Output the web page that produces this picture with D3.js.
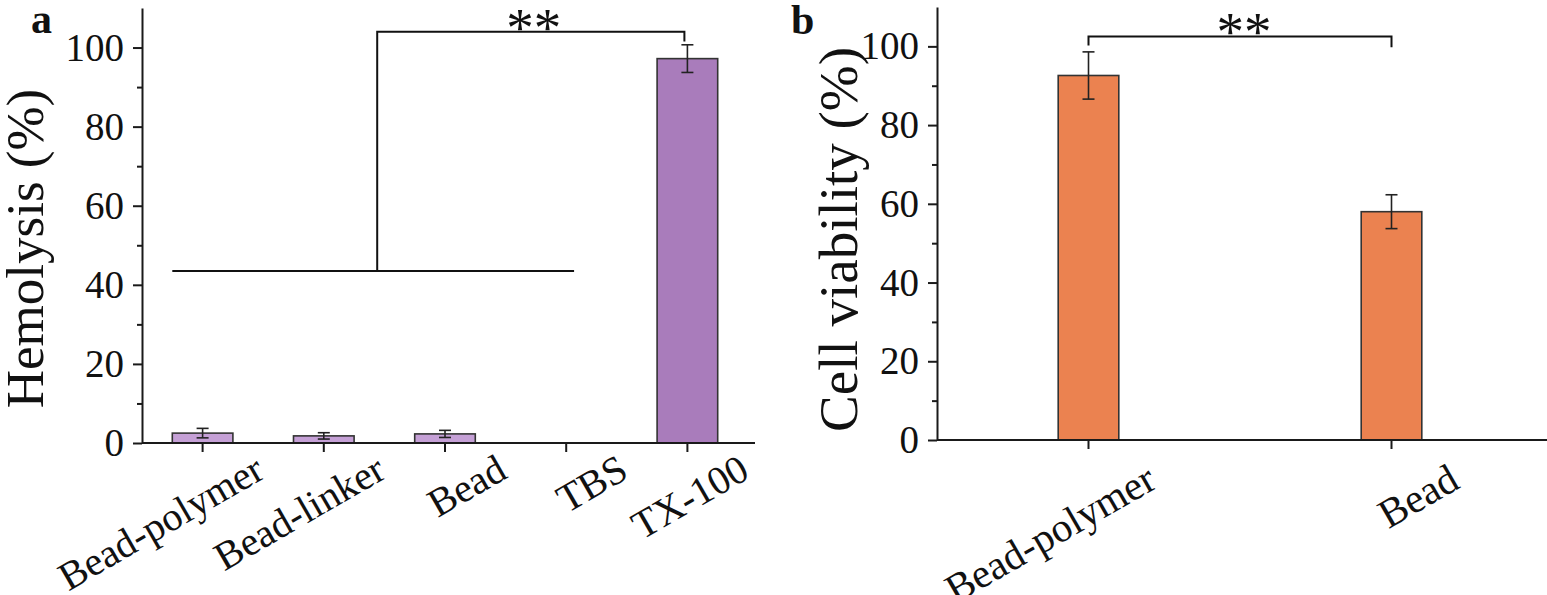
<!DOCTYPE html>
<html><head><meta charset="utf-8">
<script src="https://cdn.jsdelivr.net/npm/d3@7"></script>
<style>
body{margin:0;background:#fff}
svg text{font-family:"Liberation Serif","Times New Roman",serif;fill:#111}
</style>
</head><body>
<svg id="c" width="1547" height="595"></svg>
<script>
// ---- data ----
const hemoCategories = ["Bead-polymer", "Bead-linker", "Bead", "TBS", "TX-100"];
const hemoValues = [2.5, 1.8, 2.3, 0, 97.2];
const hemoErrors = [1.2, 0.8, 0.9, 0, 3.5];
const viabCategories = ["Bead-polymer", "Bead"];
const viabValues = [92.6, 58.0];
const viabErrors = [6.0, 4.3];
const yMajorTicks = [0, 20, 40, 60, 80, 100];
const yMinorTicks = [10, 30, 50, 70, 90];
const yDomain = [0, 110];
const yTitleA = "Hemolysis (%)";
const yTitleB = "Cell viability (%)";
const sigLabel = "**";

const svg = d3.select("#c");
const axisColor = "#1a1a1a";

function panel(opts) {
  const g = svg.append("g");
  const x = d3.scaleBand().domain(opts.cats).range(opts.xr)
    .paddingInner(opts.pi).paddingOuter(opts.po);
  const y = d3.scaleLinear().domain(yDomain).range(opts.yr);

  const data = opts.cats.map((c, i) => ({c, v: opts.vals[i], e: opts.errs[i]}));
  g.selectAll("rect.bar").data(data.filter(d => d.v > 0)).join("rect")
    .attr("class", "bar")
    .attr("x", d => x(d.c)).attr("width", x.bandwidth())
    .attr("y", d => y(d.v)).attr("height", d => y(0) - y(d.v))
    .attr("fill", d => opts.fill(d))
    .attr("stroke", "#333").attr("stroke-width", 1.6);

  const eb = g.selectAll("g.err").data(data.filter(d => d.e > 0)).join("g").attr("class", "err")
    .attr("stroke", "#222").attr("stroke-width", 1.6);
  eb.append("line").attr("x1", d => x(d.c) + x.bandwidth() / 2).attr("x2", d => x(d.c) + x.bandwidth() / 2)
    .attr("y1", d => y(d.v + d.e)).attr("y2", d => y(d.v - d.e));
  [1, -1].forEach(s => eb.append("line")
    .attr("x1", d => x(d.c) + x.bandwidth() / 2 - 6).attr("x2", d => x(d.c) + x.bandwidth() / 2 + 6)
    .attr("y1", d => y(d.v + s * d.e)).attr("y2", d => y(d.v + s * d.e)));

  const ya = g.append("g").attr("transform", `translate(${opts.xr[0]},0)`)
    .call(d3.axisLeft(y).tickValues(yMajorTicks).tickSize(9).tickSizeOuter(0).tickPadding(9));
  ya.selectAll("text").attr("font-size", 39).style("font-family", '"Liberation Serif",serif').attr("fill", "#111");
  const ym = g.append("g").attr("transform", `translate(${opts.xr[0]},0)`)
    .call(d3.axisLeft(y).tickValues(yMinorTicks).tickSize(5).tickFormat(""));
  ym.select(".domain").remove();
  [ya, ym].forEach(a => { a.selectAll("line,path").attr("stroke", axisColor).attr("stroke-width", 2); });

  const xa = g.append("g").attr("transform", `translate(0,${y(0)})`)
    .call(d3.axisBottom(x).tickSize(9).tickSizeOuter(0));
  xa.select(".domain").attr("d", `M${opts.xr[0]},0H${opts.xEnd}`);
  xa.selectAll("line,path").attr("stroke", axisColor).attr("stroke-width", 2);
  xa.selectAll("text").attr("font-size", opts.xfs).style("font-family", '"Liberation Serif",serif').attr("fill", "#111")
    .attr("text-anchor", "end").attr("x", 0).attr("y", 0).attr("dy", 0)
    .attr("transform", `translate(${opts.lx},${opts.ly}) rotate(-30)`);

  g.append("text").attr("transform", `translate(${opts.tx},${(opts.yr[0] + opts.yr[1]) / 2 + opts.tyOff}) rotate(-90)`)
    .attr("text-anchor", "middle").attr("font-size", opts.tfs).text(opts.title);

  g.append("text").attr("x", opts.letterX).attr("y", opts.letterY).attr("font-size", 42)
    .attr("font-weight", "bold").text(opts.letter);
  return {g, x, y};
}

// ---- panel a ----
const A = panel({
  cats: hemoCategories, vals: hemoValues, errs: hemoErrors,
  xr: [142, 748], xEnd: 755, pi: 0.5, po: 0.25, yr: [443, 8],
  fill: d => d.v > 10 ? "#a97cbb" : "#c5a0d6",
  xfs: 40, lx: 64, ly: 34, tx: 43, tyOff: 23, tfs: 53, title: yTitleA,
  letter: "a", letterX: 31, letterY: 33
});
{
  const {g, x, y} = A;
  const x0 = x("Bead-polymer");
  const x1 = x("TBS") + x.bandwidth() * 0.63;
  const xv = x0 + (x1 - x0) * 0.51;
  const xe = x("TX-100") + x.bandwidth() / 2 - 3;
  const br = g.append("g").attr("stroke", "#111").attr("stroke-width", 2).attr("fill", "none");
  br.append("line").attr("x1", x0).attr("x2", x1).attr("y1", y(43.5)).attr("y2", y(43.5));
  br.append("path").attr("d", `M${xv},${y(43.5)}V${y(104)}H${xe}V${y(101.5)}`);
  g.append("text").attr("x", (xv + xe) / 2 + 3).attr("y", y(104) + 14).attr("text-anchor", "middle")
    .attr("font-size", 55).text(sigLabel);
}

// ---- panel b ----
const B = panel({
  cats: viabCategories, vals: viabValues, errs: viabErrors,
  xr: [937, 1543], xEnd: 1547, pi: 0.8, po: 0.4, yr: [440, 7],
  fill: () => "#eb8250",
  xfs: 41, lx: 70, ly: 47, tx: 857, tyOff: 16, tfs: 55, title: yTitleB,
  letter: "b", letterX: 791, letterY: 34
});
{
  const {g, x, y} = B;
  const xl = x("Bead-polymer") + x.bandwidth() / 2;
  const xr = x("Bead") + x.bandwidth() / 2;
  g.append("path").attr("d", `M${xl},${y(100.2)}V${y(102.5)}H${xr}V${y(99.8)}`)
    .attr("stroke", "#111").attr("stroke-width", 2).attr("fill", "none");
  g.append("text").attr("x", (xl + xr) / 2 + 4).attr("y", y(102.5) + 13).attr("text-anchor", "middle")
    .attr("font-size", 55).text(sigLabel);
}
</script>
</body></html>
